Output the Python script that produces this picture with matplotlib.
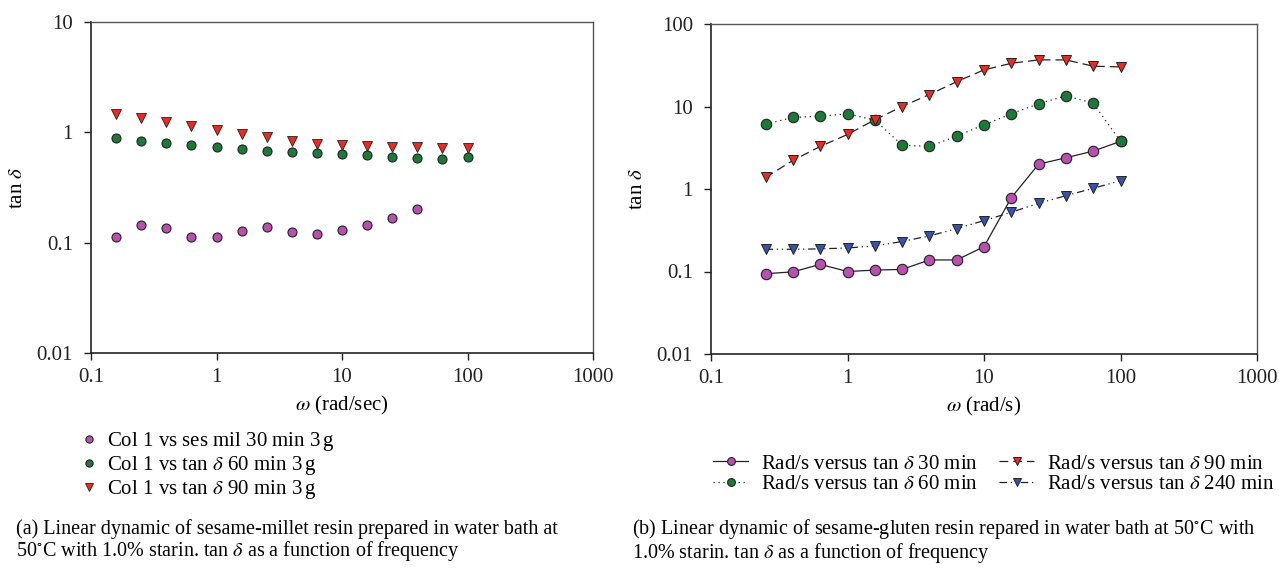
import numpy as np
import matplotlib
matplotlib.use("Agg")
from matplotlib import pyplot as plt

plt.rcParams['font.family'] = ['Liberation Serif', 'DejaVu Serif']
plt.rcParams['mathtext.fontset'] = 'stix'

# frequency points (rad/s)
w_a = [0.158, 0.251, 0.398, 0.631, 1.0, 1.585, 2.512, 3.981, 6.31, 10.0, 15.85, 25.12, 39.81, 63.1, 100.0]
w_b = [0.251, 0.398, 0.631, 1.0, 1.585, 2.512, 3.981, 6.31, 10.0, 15.85, 25.12, 39.81, 63.1, 100.0]

# (a) sesame-millet
a_30 = [0.112, 0.145, 0.135, 0.112, 0.113, 0.128, 0.139, 0.126, 0.121, 0.129, 0.144, 0.167, 0.202]
a_60 = [0.887, 0.84, 0.805, 0.773, 0.74, 0.706, 0.677, 0.659, 0.645, 0.632, 0.619, 0.601, 0.581, 0.573, 0.593]
a_90 = [1.47, 1.35, 1.24, 1.14, 1.05, 0.97, 0.906, 0.84, 0.79, 0.77, 0.75, 0.74, 0.735, 0.725, 0.72]

# (b) sesame-gluten
b_30 = [0.094, 0.099, 0.122, 0.1, 0.104, 0.106, 0.138, 0.138, 0.2, 0.785, 2.0, 2.39, 2.88, 3.78]
b_60 = [6.11, 7.36, 7.64, 8.15, 6.84, 3.4, 3.28, 4.38, 6.0, 8.15, 10.8, 13.5, 10.96, 3.78]
b_90 = [1.38, 2.22, 3.28, 4.58, 6.9, 10.0, 13.97, 20.0, 27.8, 33.4, 36.7, 36.7, 30.8, 30.2]
b_240 = [0.186, 0.186, 0.188, 0.193, 0.204, 0.231, 0.27, 0.331, 0.414, 0.523, 0.671, 0.83, 1.02, 1.26]

labels_a = [r"Col 1 vs ses mil 30 min 3$\,$g", r"Col 1 vs tan $\delta$ 60 min 3$\,$g", r"Col 1 vs tan $\delta$ 90 min 3$\,$g"]
labels_b = [r"Rad/s versus tan $\delta$ 30 min", r"Rad/s versus tan $\delta$ 60 min",
            r"Rad/s versus tan $\delta$ 90 min", r"Rad/s versus tan $\delta$ 240 min"]

magenta = "#b94fb0"
green = "#1c7a38"
red = "#ec2a22"
blue = "#3752a6"

fs = 15
fig = plt.figure(figsize=(12.79, 5.77), dpi=100)
W, H = 1279, 577
ax1 = fig.add_axes([91 / W, 1 - 353 / H, 502 / W, 331 / H])
ax2 = fig.add_axes([711 / W, 1 - 354 / H, 546 / W, 330 / H])


def style(ax, ylim, xlabel):
    ax.set_xscale('log')
    ax.set_yscale('log')
    ax.set_xlim(0.1, 1000)
    ax.set_ylim(*ylim)
    ax.minorticks_off()
    ax.tick_params(axis='both', which='major', direction='out', length=5, width=1,
                   labelsize=fs, colors='#222222', labelcolor='#222222')
    ax.tick_params(axis='y', pad=8)
    ax.tick_params(axis='x', pad=6)
    ax.tick_params(top=False, right=False)
    for s in ['left', 'bottom']:
        ax.spines[s].set_color('#222222')
        ax.spines[s].set_linewidth(1.2)
    for s in ['top', 'right']:
        ax.spines[s].set_color('#555555')
        ax.spines[s].set_linewidth(1.0)
    ax.xaxis.set_major_formatter(matplotlib.ticker.FuncFormatter(lambda v, p: '%g' % v))
    ax.yaxis.set_major_formatter(matplotlib.ticker.FuncFormatter(lambda v, p: '%g' % v))
    ax.set_xlabel(xlabel, fontsize=fs, labelpad=5)
    ax.set_ylabel(r"tan $\delta$", fontsize=fs, labelpad=7)


style(ax1, (0.01, 10), r"$\omega$ (rad/sec)")
ax1.set_yticks([0.01, 0.1, 1, 10])
style(ax2, (0.01, 100), r"$\omega$ (rad/s)")
ax2.set_yticks([0.01, 0.1, 1, 10, 100])
for ax in (ax1, ax2):
    ax.set_xticks([0.1, 1, 10, 100, 1000])

ms = 6.5
h1, = ax1.plot(w_a[:len(a_30)], a_30, 'o', ms=ms, mfc=magenta, mec='#222222', mew=0.8, label=labels_a[0])
h2, = ax1.plot(w_a, a_60, 'o', ms=ms, mfc=green, mec='#222222', mew=0.8, label=labels_a[1])
h3, = ax1.plot(w_a, a_90, 'v', ms=ms + 0.5, mfc=red, mec='#222222', mew=0.6, label=labels_a[2])

ms2 = 7.5
g1, = ax2.plot(w_b, b_30, '-', color='#222222', lw=0.9, marker='o', ms=ms2, mfc=magenta, mec='#222222', mew=0.8, label=labels_b[0])
g2, = ax2.plot(w_b, b_60, color='#222222', lw=0.9, ls=(0, (1, 3)), marker='o', ms=ms2, mfc=green, mec='#222222', mew=0.8, label=labels_b[1])
g3, = ax2.plot(w_b, b_90, color='#222222', lw=0.9, ls=(0, (7, 4)), marker='v', ms=ms2, mfc=red, mec='#222222', mew=0.7, label=labels_b[2])
g4, = ax2.plot(w_b, b_240, color='#222222', lw=0.9, ls=(0, (6, 3, 1, 3, 1, 3)), marker='v', ms=ms2, mfc=blue, mec='#222222', mew=0.7, label=labels_b[3])

fig.legend(handles=[h1, h2, h3], loc='upper left', bbox_to_anchor=(83 / W, 1 - 430 / H),
           frameon=False, fontsize=fs, handlelength=0.6, handletextpad=0.55,
           labelspacing=0.05, markerscale=0.8, borderpad=0, borderaxespad=0)
fig.legend(handles=[g1, g2, g3, g4], loc='upper left', bbox_to_anchor=(713 / W, 1 - 454 / H),
           ncol=2, frameon=False, fontsize=fs, handlelength=1.7, handletextpad=0.6,
           labelspacing=0.05, columnspacing=1.0, markerscale=0.75, borderpad=0, borderaxespad=0)

fs_cap = 14.5
fig.text(16 / W, 1 - 541 / H,
         "(a) Linear dynamic of sesame-millet resin prepared in water bath at\n"
         r"50$^{\circ}$C with 1.0% starin. tan $\delta$ as a function of frequency",
         fontsize=fs_cap, va='center', ha='left', linespacing=0.95)
fig.text(632 / W, 1 - 541 / H,
         r"(b) Linear dynamic of sesame-gluten resin repared in water bath at 50$^{\circ}$C with" "\n"
         r"1.0% starin. tan $\delta$ as a function of frequency",
         fontsize=fs_cap, va='center', ha='left', linespacing=0.95)

fig.savefig("out.png", dpi=100)
